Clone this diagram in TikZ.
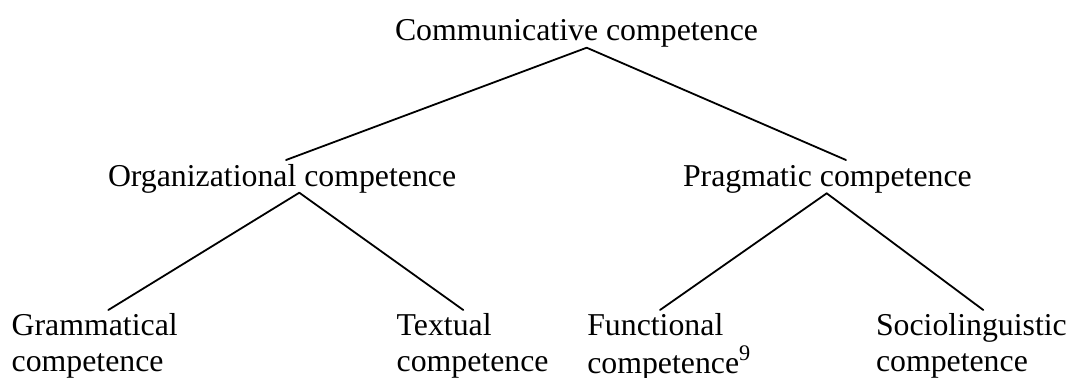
\documentclass[tikz,border=0pt]{standalone}
\usepackage{fontspec}
\setmainfont{Liberation Serif}
\usetikzlibrary{calc}
\newcommand{\twolines}[2]{\begin{tabular}[t]{@{}l@{}}#1\\#2\end{tabular}}
\begin{document}
\begin{tikzpicture}[x=0.5pt,y=-0.5pt,
  term/.style={inner sep=0pt,outer sep=0pt,anchor=base west,
               font=\fontsize{15.9}{18}\selectfont},
  branch/.style={line width=0.9pt,line cap=round}]
\useasboundingbox (0,0) rectangle (1071,377);

% root
\node[term] (cc) at (395,40) {Communicative competence};

% second level
\node[term] (oc) at (108,186) {Organizational competence};
\node[term] (pc) at (683,186) {Pragmatic competence};

% leaves
\node[term] (gc) at (11.7,335) {\twolines{Grammatical}{competence}};
\node[term] (tc) at (396.7,335) {\twolines{Textual}{competence}};
\node[term] (fc) at (587.3,335) {\twolines{Functional}{competence\textsuperscript{9}}};
\node[term] (sc) at (876,335) {\twolines{Sociolinguistic}{competence}};

% branches
\draw[branch] ($(cc.base west)+(191.7,7.7)$) -- ($(oc.base west)+(178,-26)$);
\draw[branch] ($(cc.base west)+(191.7,7.7)$) -- ($(pc.base west)+(163,-26)$);
\draw[branch] ($(oc.base west)+(191.3,6.7)$) -- ($(gc.base west)+(96.6,-25)$);
\draw[branch] ($(oc.base west)+(191.3,6.7)$) -- ($(tc.base west)+(66.6,-25)$);
\draw[branch] ($(pc.base west)+(143.7,7.3)$) -- ($(fc.base west)+(72.7,-25)$);
\draw[branch] ($(pc.base west)+(143.7,7.3)$) -- ($(sc.base west)+(107.3,-25)$);
\end{tikzpicture}
\end{document}
